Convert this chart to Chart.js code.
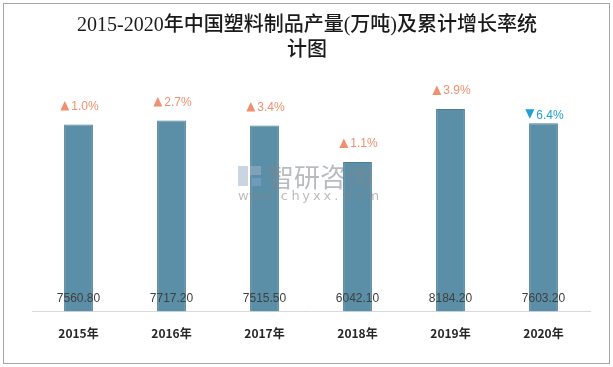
<!DOCTYPE html>
<html><head><meta charset="utf-8">
<script src="https://cdn.jsdelivr.net/npm/chart.js@4/dist/chart.umd.min.js"></script>
<style>html,body{margin:0;padding:0;background:#fff}#wrap{position:relative;width:613px;height:367px}</style>
</head><body><div id="wrap"><canvas id="c" width="613" height="367"></canvas></div>
<script>
const categories = ["2015年","2016年","2017年","2018年","2019年","2020年"];
const production = [7560.80, 7717.20, 7515.50, 6042.10, 8184.20, 7603.20];
const growthRate = [1.0, 2.7, 3.4, 1.1, 3.9, -6.4];
const titleLines = ["2015-2020年中国塑料制品产量(万吨)及累计增长率统", "计图"];

const deco = {
  id: 'deco',
  beforeDraw(chart) {
    const ctx = chart.ctx;
    ctx.save();
    ctx.fillStyle = '#fff';
    ctx.fillRect(0, 0, chart.width, chart.height);
    ctx.strokeStyle = '#a6a6a6';
    ctx.lineWidth = 1;
    ctx.strokeRect(3.5, 3.5, 606, 360);
    ctx.fillStyle = '#1a1a1a';
    ctx.font = '500 20px "Liberation Serif", "Noto Sans CJK SC", serif';
    ctx.textAlign = 'center';
    ctx.textBaseline = 'middle';
    ctx.fillText(titleLines[0], 307, 26);
    ctx.fillText(titleLines[1], 307, 51);
    ctx.restore();
  },
  afterDatasetsDraw(chart) {
    const ctx = chart.ctx;
    const meta = chart.getDatasetMeta(0);
    const yBase = chart.scales.y.getPixelForValue(0);
    ctx.save();
    meta.data.forEach((bar, i) => {
      ctx.font = '12px "Liberation Sans", Arial, sans-serif';
      ctx.fillStyle = '#404040';
      ctx.textAlign = 'center';
      ctx.textBaseline = 'middle';
      ctx.fillText(production[i].toFixed(2), bar.x, yBase - 13);
      const g = growthRate[i];
      const up = g >= 0;
      const txt = Math.abs(g).toFixed(1) + '%';
      const tw = ctx.measureText(txt).width;
      const triW = 9, gap = 2;
      const total = triW + gap + tw;
      const x0 = bar.x - total / 2 + 1;
      const yc = up ? bar.y - 19 : bar.y - 9;
      const col = up ? '#f0906f' : '#1b9fd6';
      ctx.fillStyle = col;
      ctx.beginPath();
      if (up) {
        ctx.moveTo(x0, yc + 5); ctx.lineTo(x0 + triW, yc + 5); ctx.lineTo(x0 + triW / 2, yc - 4.5);
      } else {
        ctx.moveTo(x0, yc - 5); ctx.lineTo(x0 + triW, yc - 5); ctx.lineTo(x0 + triW / 2, yc + 4.5);
      }
      ctx.closePath(); ctx.fill();
      ctx.textAlign = 'left';
      ctx.fillText(txt, x0 + triW + gap, yc + 1);
    });
    ctx.globalAlpha = 0.55;
    ctx.fillStyle = '#80858a';
    ctx.font = '26px "Noto Sans CJK SC", sans-serif';
    ctx.textAlign = 'left';
    ctx.textBaseline = 'middle';
    ctx.fillText('智研咨询', 268, 177);
    ctx.font = '13px "DejaVu Sans", sans-serif';
    const s = 'www.chyxx.com';
    let x = 238;
    for (const ch of s) { ctx.fillText(ch, x, 197); x += 10.7; }
    ctx.fillStyle = '#9fb3c8';
    ctx.fillRect(238, 166, 10, 20);
    ctx.fillRect(250, 166, 11, 9);
    ctx.fillStyle = '#7fa7cf';
    ctx.fillRect(252, 178, 9, 8);
    ctx.restore();
  }
};

new Chart(document.getElementById('c'), {
  type: 'bar',
  data: {
    labels: categories,
    datasets: [{
      data: production,
      backgroundColor: '#5b8fa7',
      borderColor: '#4b7d96',
      borderWidth: 1,
      borderDash: [2, 2],
      barPercentage: 0.31,
      categoryPercentage: 1.0
    }]
  },
  options: {
    responsive: false,
    animation: false,
    layout: { padding: { left: 32, right: 23, top: 64, bottom: 11 } },
    plugins: { legend: { display: false }, title: { display: false }, tooltip: { enabled: false } },
    scales: {
      y: { display: false, min: 0, max: 10000 },
      x: {
        grid: { display: false, drawTicks: false },
        border: { display: true, color: '#d9d9d9', width: 1 },
        ticks: { color: '#262626', padding: 15, font: { size: 12, weight: 'bold', family: '"Noto Sans CJK SC", sans-serif' } }
      }
    }
  },
  plugins: [deco]
});
</script></body></html>
